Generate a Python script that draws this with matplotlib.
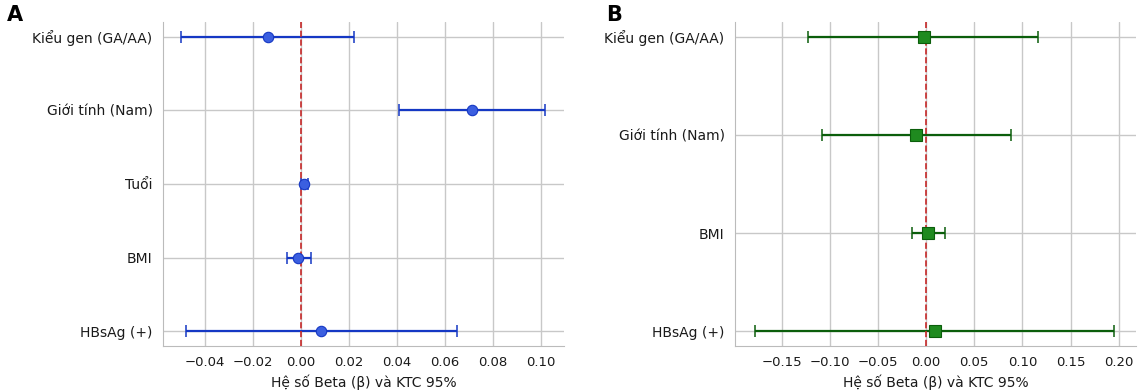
import matplotlib
matplotlib.use("Agg")
import matplotlib.pyplot as plt
import seaborn as sns

sns.set_style("whitegrid")
plt.rcParams['font.family'] = ['DejaVu Sans']

# Panel A data
cats_a = ["Kiểu gen (GA/AA)", "Giới tính (Nam)", "Tuổi", "BMI", "HBsAg (+)"]
beta_a = [-0.0138, 0.0712, 0.0012, -0.0011, 0.0085]
lo_a = [-0.0498, 0.0409, -0.0002, -0.0057, -0.0478]
hi_a = [0.0222, 0.1018, 0.0028, 0.0042, 0.0651]

# Panel B data
cats_b = ["Kiểu gen (GA/AA)", "Giới tính (Nam)", "BMI", "HBsAg (+)"]
beta_b = [-0.0022, -0.0105, 0.0022, 0.0090]
lo_b = [-0.1222, -0.1080, -0.0149, -0.1778]
hi_b = [0.1167, 0.0877, 0.0192, 0.1950]

xlabel = "Hệ số Beta (β) và KTC 95%"

fig = plt.figure(figsize=(11.41, 3.90), dpi=100)
ax_a = fig.add_axes([163/1141, 1-346/390, 401/1141, 324/390])
ax_b = fig.add_axes([735/1141, 1-346/390, 401/1141, 324/390])


def draw(ax, cats, beta, lo, hi, line_color, face, marker, ms):
    y = list(range(len(cats)))
    xerr = [[b - l for b, l in zip(beta, lo)], [h - b for b, h in zip(beta, hi)]]
    ax.errorbar(beta, y, xerr=xerr, fmt='none', ecolor=line_color, elinewidth=1.6,
                capsize=4, capthick=1.1, zorder=2)
    ax.axvline(0, color='#c62828', linestyle='--', linewidth=1.2, zorder=3)
    ax.plot(beta, y, linestyle='none', marker=marker, markersize=ms,
            markerfacecolor=face, markeredgecolor=line_color, markeredgewidth=0.8, zorder=4)
    ax.set_yticks(y)
    ax.set_yticklabels(cats, fontsize=10, color='#1a1a1a')
    ax.invert_yaxis()
    ax.set_xlabel(xlabel, fontsize=10, color='#1a1a1a')
    ax.tick_params(axis='x', labelsize=9.5, labelcolor='#1a1a1a')
    ax.tick_params(axis='y', pad=4)
    for s in ['top', 'right']:
        ax.spines[s].set_visible(False)
    for s in ['left', 'bottom']:
        ax.spines[s].set_color('#bbbbbb')
    ax.grid(True, color='#c8c8c8', linewidth=1.0)


draw(ax_a, cats_a, beta_a, lo_a, hi_a, '#1538c4', '#3b5fe0', 'o', 7.5)
ax_a.set_xlim(-0.0575, 0.1096)
ax_a.set_xticks([-0.04, -0.02, 0.0, 0.02, 0.04, 0.06, 0.08, 0.10])
ax_a.set_xticklabels(["−0.04", "−0.02", "0.00", "0.02", "0.04", "0.06", "0.08", "0.10"])

draw(ax_b, cats_b, beta_b, lo_b, hi_b, '#0b5e0b', '#1f8a1f', 's', 8)
ax_b.set_xlim(-0.1985, 0.218)
ax_b.set_xticks([-0.15, -0.10, -0.05, 0.0, 0.05, 0.10, 0.15, 0.20])
ax_b.set_xticklabels(["−0.15", "−0.10", "−0.05", "0.00", "0.05", "0.10", "0.15", "0.20"])

fig.text(7/1141, 1-15/390, "A", fontsize=15, fontweight='bold', va='center', ha='left', color='black')
fig.text(606/1141, 1-15/390, "B", fontsize=15, fontweight='bold', va='center', ha='left', color='black')

fig.savefig("out.png", dpi=100)
